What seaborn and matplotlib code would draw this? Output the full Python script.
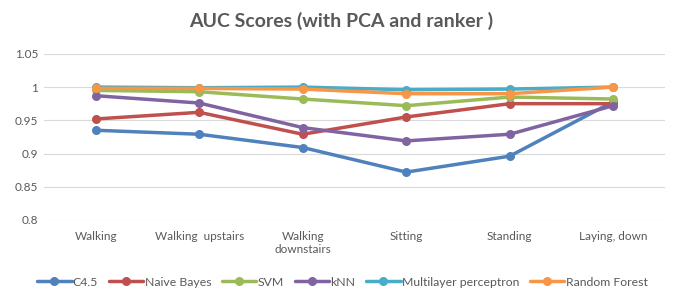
import numpy as np
import pandas as pd
import matplotlib
matplotlib.use("Agg")
import matplotlib.pyplot as plt
import seaborn as sns

activities = ["Walking", "Walking  upstairs", "Walking\ndownstairs", "Sitting", "Standing", "Laying, down"]
c45 = [0.935, 0.929, 0.909, 0.872, 0.896, 0.978]
naive_bayes = [0.952, 0.962, 0.929, 0.955, 0.975, 0.975]
svm = [0.995, 0.993, 0.982, 0.972, 0.985, 0.982]
knn = [0.987, 0.976, 0.939, 0.919, 0.929, 0.972]
mlp = [1.000, 0.999, 1.000, 0.996, 0.997, 1.000]
random_forest = [0.998, 0.998, 0.997, 0.990, 0.990, 1.000]

series = {
    "C4.5": c45,
    "Naive Bayes": naive_bayes,
    "SVM": svm,
    "kNN": knn,
    "Multilayer perceptron": mlp,
    "Random Forest": random_forest,
}
colors = ["#4F81BD", "#C0504D", "#9BBB59", "#8064A2", "#4BACC6", "#F79646"]

rows = []
for name, vals in series.items():
    for i, v in enumerate(vals):
        rows.append({"pos": i, "activity": activities[i], "model": name, "auc": v})
df = pd.DataFrame(rows)

sns.set_style("white")
plt.rcParams["font.family"] = ["Lato", "DejaVu Sans"]

fig = plt.figure(figsize=(6.82, 2.96), dpi=100)
ax = fig.add_axes([0.0645, 0.257, 0.9105, 0.561])

sns.lineplot(data=df, x="pos", y="auc", hue="model", palette=colors,
             marker="o", markersize=6.5, markeredgewidth=0, linewidth=2.5,
             ax=ax, legend=True)

ax.set_xlim(-0.5, 5.5)
ax.set_ylim(0.8, 1.05)
ax.set_yticks([0.8, 0.85, 0.9, 0.95, 1.0, 1.05])
ax.set_yticklabels(["0.8", "0.85", "0.9", "0.95", "1", "1.05"])
ax.set_xticks(range(len(activities)))
ax.set_xticklabels(activities)
ax.grid(axis="y", color="#D9D9D9", linewidth=0.8)
ax.set_axisbelow(True)
for s in ax.spines.values():
    s.set_visible(False)
ax.tick_params(axis="both", length=0, colors="#595959", labelsize=8.5, pad=8)
ax.tick_params(axis="y", pad=4)
ax.set_xlabel("")
ax.set_ylabel("")

fig.suptitle("AUC Scores (with PCA and ranker )", x=0.5, y=0.96, fontsize=14,
             fontweight="bold", color="#595959")

handles, labels = ax.get_legend_handles_labels()
ax.legend_.remove()
fig.legend(handles, labels, loc="center", bbox_to_anchor=(0.502, 0.047), ncol=6,
           frameon=False, fontsize=8.8, handlelength=2.8, handletextpad=0.1,
           columnspacing=0.9, labelcolor="#595959")

fig.savefig("out.png", dpi=100)
